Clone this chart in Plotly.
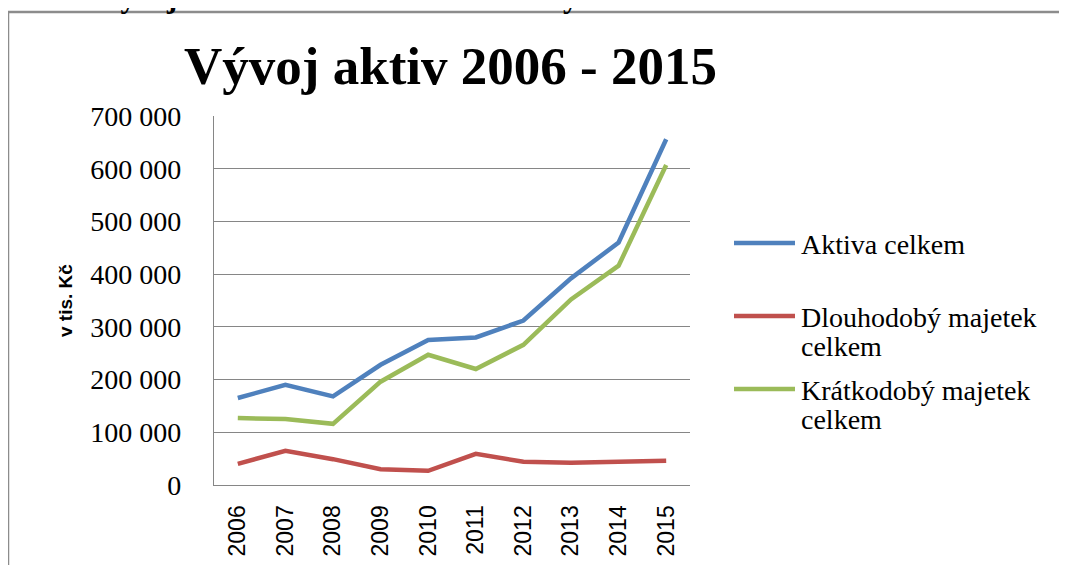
import plotly.graph_objects as go

# ---- data ----
years = ["2006", "2007", "2008", "2009", "2010", "2011", "2012", "2013", "2014", "2015"]
aktiva_celkem = [165000, 190000, 168000, 228000, 275000, 280000, 312000, 392000, 460000, 656000]
dlouhodoby_majetek = [40000, 65000, 49000, 30000, 27000, 59000, 44000, 42000, 44000, 46000]
kratkodoby_majetek = [127000, 125000, 116000, 196000, 247000, 220000, 266000, 352000, 416000, 607000]

y_tick_values = [0, 100000, 200000, 300000, 400000, 500000, 600000, 700000]
y_tick_labels = ["0", "100 000", "200 000", "300 000", "400 000", "500 000", "600 000", "700 000"]

series_names = ["Aktiva celkem", "Dlouhodobý majetek celkem", "Krátkodobý majetek celkem"]
legend_lines = [["Aktiva celkem"], ["Dlouhodobý majetek", "celkem"], ["Krátkodobý majetek", "celkem"]]
series_values = [aktiva_celkem, dlouhodoby_majetek, kratkodoby_majetek]
colors = ["#4F81BD", "#C0504D", "#9BBB59"]

chart_title = "Vývoj aktiv 2006 - 2015"
caption = "Graf 1 Vývoj aktiv Člověka v tisíc mezi lety 2006 – 2015"
y_title = "v tis. Kč"

# ---- layout geometry (window pixels) ----
W, H = 1067, 565
OFF = 8  # page body margin
PL, PR, PT, PB = 214, 690, 116, 485


def px2x(px):
    return (px - PL) / (PR - PL)


def px2y(py):
    return (PB - py) / (PB - PT)


SERIF = "Liberation Serif, Times New Roman, serif"
SANS = "Liberation Sans, Arial, sans-serif"
GRID = "#868686"

fig = go.Figure()
for name, vals, col in zip(series_names, series_values, colors):
    fig.add_trace(go.Scatter(
        x=years, y=vals, name=name, mode="lines",
        line=dict(color=col, width=4.5), showlegend=False,
    ))

shapes = []
annotations = []

# outer frame
shapes.append(dict(type="rect", xref="paper", yref="paper",
                   x0=px2x(8), x1=px2x(1100), y0=px2y(620), y1=px2y(12),
                   line=dict(color="#8c8c8c", width=2.5), fillcolor="rgba(0,0,0,0)", layer="below"))

# manual legend
legend_y = [243, 316, 389]
for lines, col, ly in zip(legend_lines, colors, legend_y):
    shapes.append(dict(type="line", xref="paper", yref="paper",
                       x0=px2x(734), x1=px2x(795), y0=px2y(ly), y1=px2y(ly),
                       line=dict(color=col, width=4.5)))
    for i, t in enumerate(lines):
        annotations.append(dict(text=t, xref="paper", yref="paper",
                                x=px2x(799), y=px2y(ly + 1 + 29 * i),
                                xanchor="left", yanchor="middle", showarrow=False,
                                font=dict(family=SERIF, size=28, color="#000000")))

# chart title
annotations.append(dict(text="<b>" + chart_title + "</b>", xref="paper", yref="paper",
                        x=px2x(450), y=px2y(66), xanchor="center", yanchor="middle",
                        showarrow=False, font=dict(family=SERIF, size=53, color="#000000")))

# caption at top (cut off by the top edge in the reference as well)
annotations.append(dict(text="<b>" + caption + "</b>", xref="paper", yref="paper",
                        x=px2x(2), y=px2y(-4), xanchor="left", yanchor="middle",
                        showarrow=False, font=dict(family=SERIF, size=31, color="#000000")))

# y-axis title
annotations.append(dict(text="<b>" + y_title + "</b>", xref="paper", yref="paper",
                        x=px2x(65), y=px2y(301), xanchor="center", yanchor="middle",
                        textangle=-90, showarrow=False,
                        font=dict(family=SANS, size=19, color="#000000")))

fig.update_layout(
    width=W, height=H,
    margin=dict(l=PL - OFF, r=W - (PR - OFF), t=PT - OFF, b=H - (PB - OFF), pad=0),
    paper_bgcolor="white", plot_bgcolor="white",
    shapes=shapes, annotations=annotations,
    showlegend=False,
    xaxis=dict(
        type="category", range=[-0.5, 9.5],
        showgrid=False, showline=True, linecolor=GRID, linewidth=1.2,
        ticks="", tickangle=-90, ticklabelstandoff=10,
        tickfont=dict(family=SANS, size=23, color="#000000"),
    ),
    yaxis=dict(
        range=[0, 700000], tickvals=y_tick_values, ticktext=y_tick_labels,
        showgrid=True, gridcolor=GRID, gridwidth=1.2,
        showline=True, linecolor=GRID, linewidth=1.2, zeroline=False,
        ticks="", ticklabelstandoff=26,
        tickfont=dict(family=SERIF, size=28, color="#000000"),
    ),
)

fig.write_html("out.html")
